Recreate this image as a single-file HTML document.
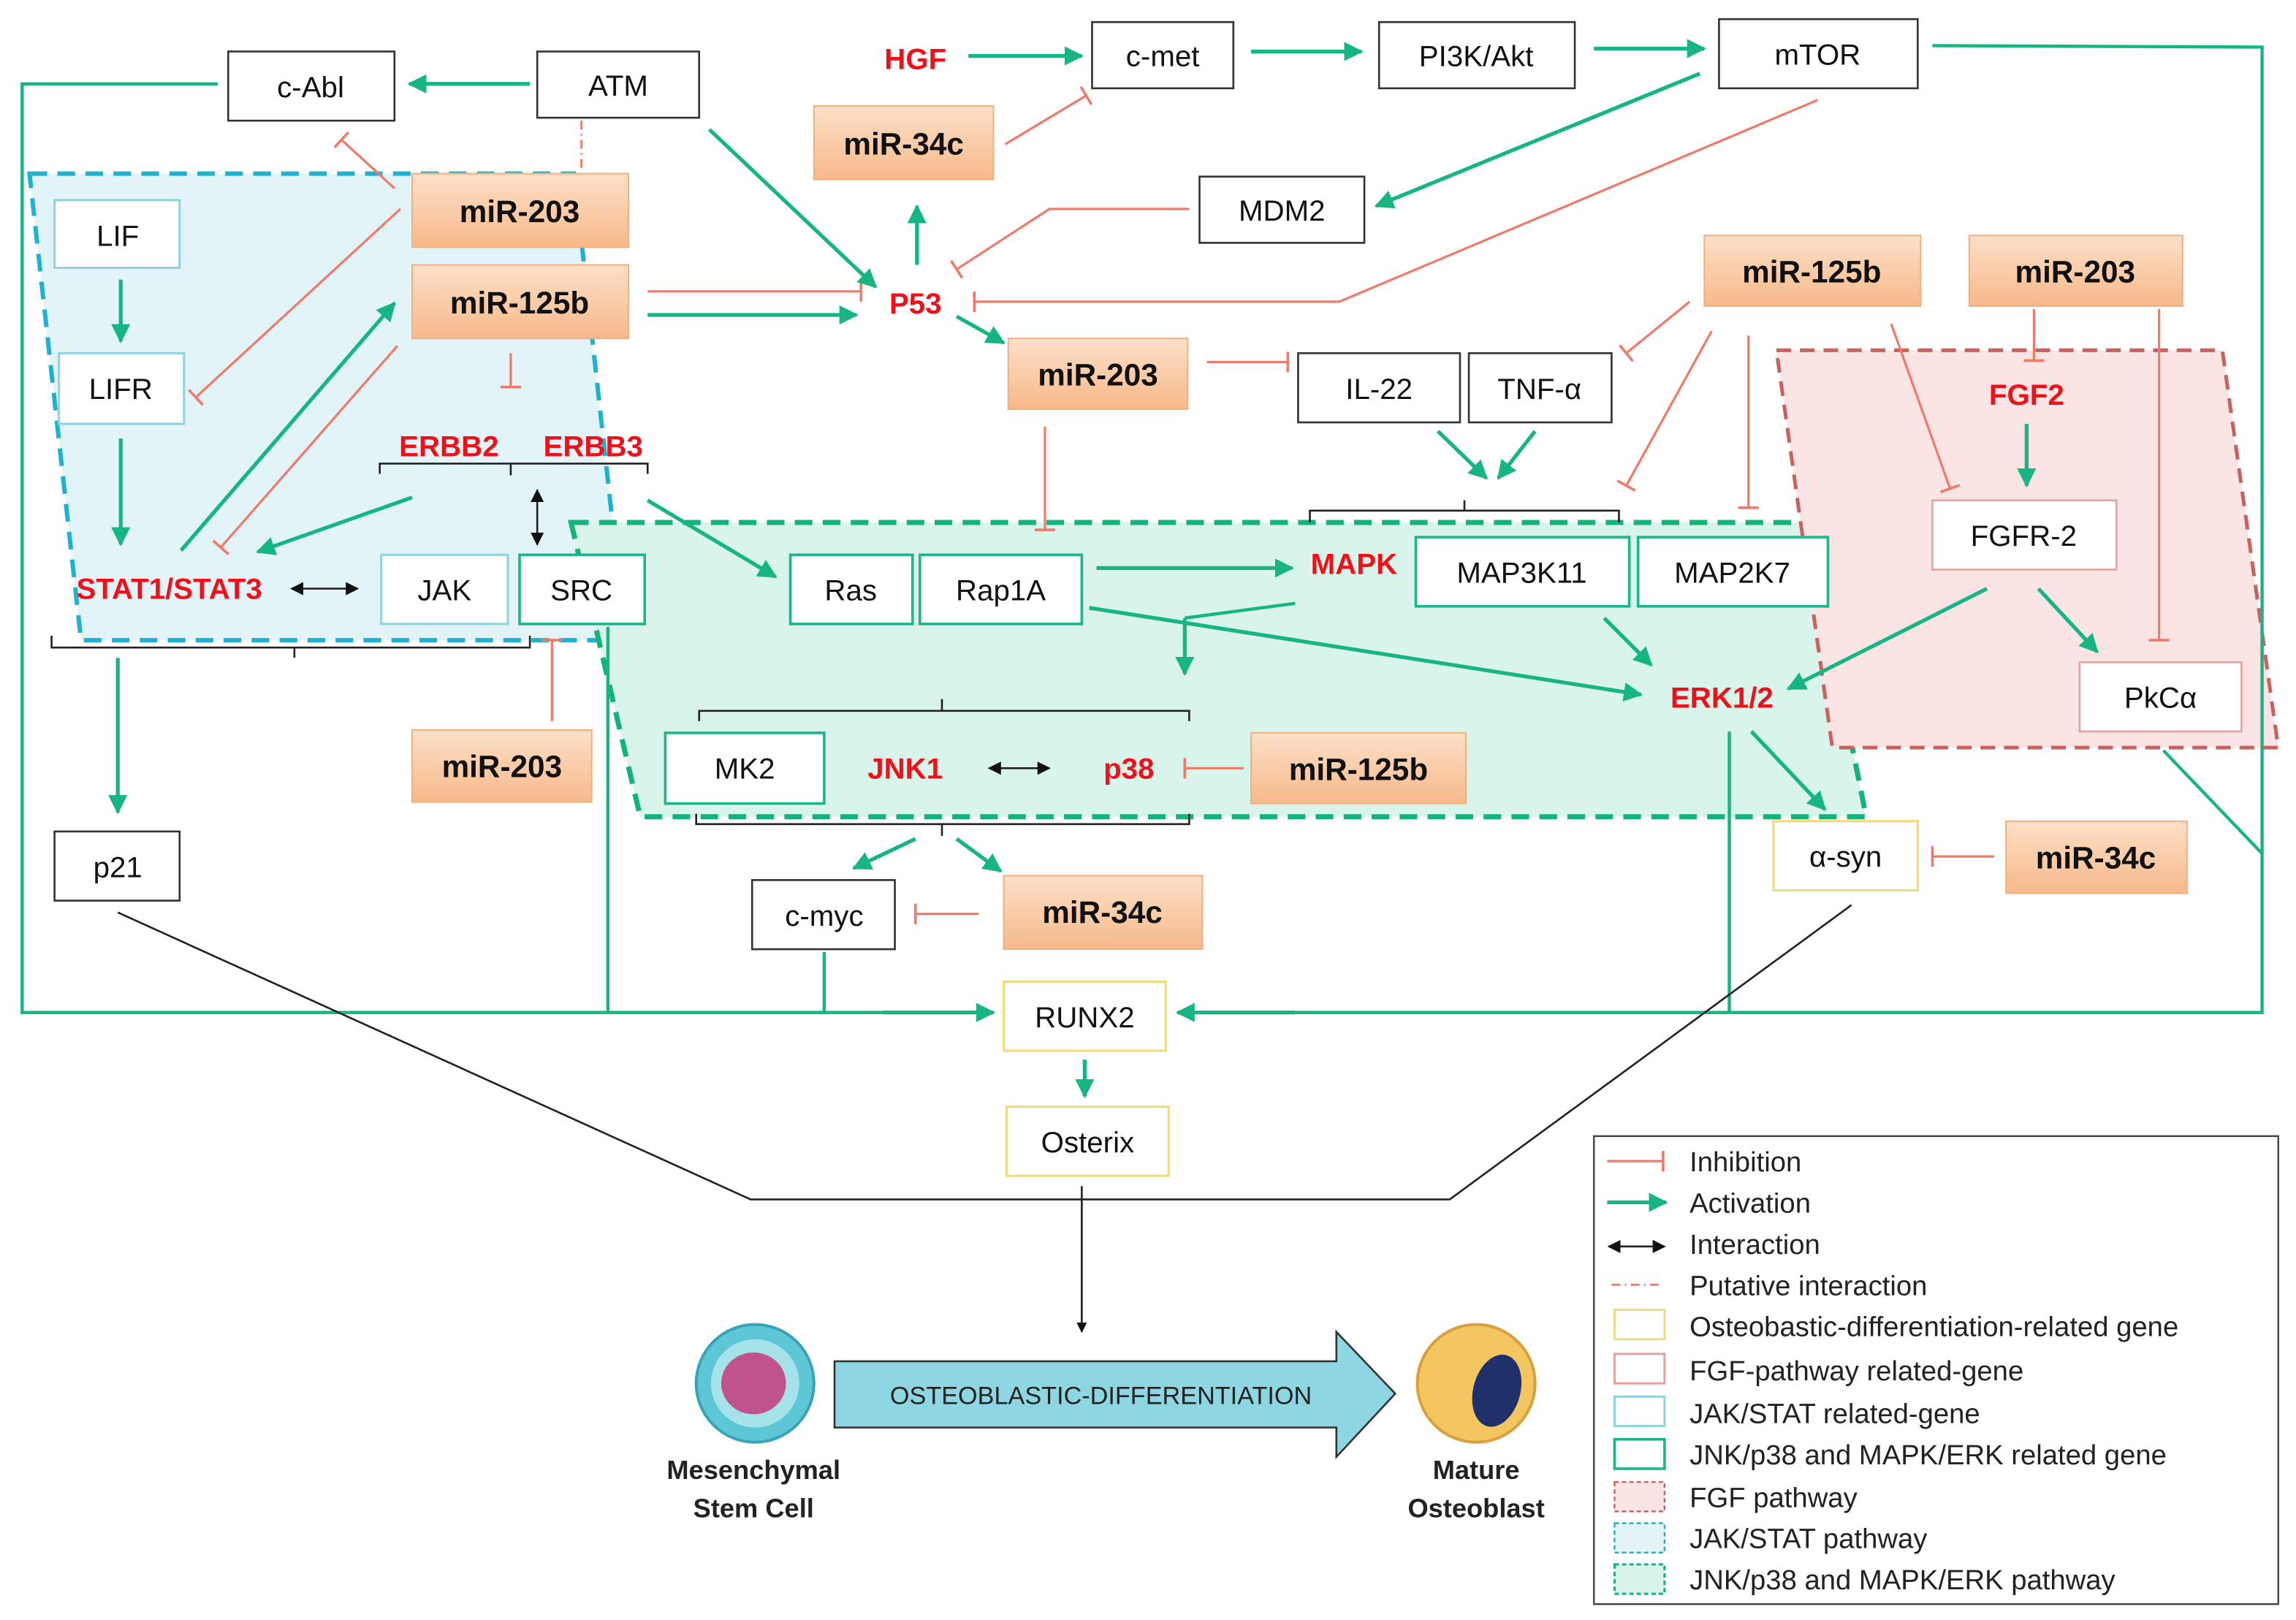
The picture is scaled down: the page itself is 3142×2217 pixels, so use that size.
<!DOCTYPE html>
<html><head><meta charset="utf-8"><style>
html,body{margin:0;padding:0;background:#fff;}
svg{display:block;}
text{font-family:"Liberation Sans",sans-serif;}
.bx{fill:#fff;stroke:#333;stroke-width:1.3;}
.bb{fill:#fff;stroke:#8fd3e0;stroke-width:1.5;}
.bt{fill:#fff;stroke:#1db58a;stroke-width:1.8;}
.bp{fill:#fff;stroke:#e3a3a0;stroke-width:1.3;}
.by{fill:#fff;stroke:#f0dc80;stroke-width:1.6;}
.mi{fill:url(#og);stroke:#f0b080;stroke-width:1;}
.t{font-size:20px;fill:#111;text-anchor:middle;}
.m{font-size:21px;font-weight:bold;fill:#111;text-anchor:middle;}
.r{font-size:20px;font-weight:bold;fill:#f0101a;text-anchor:middle;}
.g{stroke:#17b584;stroke-width:2.6;fill:none;marker-end:url(#ga);}
.gl{stroke:#17b584;stroke-width:2.2;fill:none;}
.i{stroke:#f07a6a;stroke-width:1.6;fill:none;marker-end:url(#ib);}
.k{stroke:#222;stroke-width:1.3;fill:none;}
.lg{font-size:19px;fill:#222;}
</style></head><body>
<svg width="3142" height="2217" viewBox="0 0 1560 1100.8" xmlns="http://www.w3.org/2000/svg">
<defs>
<linearGradient id="og" x1="0" y1="0" x2="0" y2="1"><stop offset="0" stop-color="#fde0c8"/><stop offset="1" stop-color="#f7b98a"/></linearGradient>
<marker id="ga" viewBox="0 0 10 10" refX="9" refY="5" markerWidth="5" markerHeight="5" orient="auto" markerUnits="strokeWidth"><path d="M0,0L10,5L0,10z" fill="#17b584"/></marker>
<marker id="ib" viewBox="0 0 4 14" refX="2" refY="7" markerWidth="4" markerHeight="14" orient="auto" markerUnits="userSpaceOnUse"><path d="M2,0V14" stroke="#f07a6a" stroke-width="1.8"/></marker>
<marker id="ka" viewBox="0 0 10 10" refX="9" refY="5" markerWidth="9" markerHeight="9" orient="auto-start-reverse" markerUnits="userSpaceOnUse"><path d="M0,0L10,5L0,10z" fill="#111"/></marker>
<marker id="ka2" viewBox="0 0 10 10" refX="9" refY="5" markerWidth="7" markerHeight="7" orient="auto" markerUnits="userSpaceOnUse"><path d="M0,0L10,5L0,10z" fill="#111"/></marker>
</defs>

<!-- regions -->
<path d="M20,118 L390,118 L425,435 L55,435 Z" fill="#e3f4f9" stroke="#1fb2d0" stroke-width="3" stroke-dasharray="12,7"/>
<path d="M388,355 L1228,355 L1268,555 L435,555 Z" fill="#d9f4ea" stroke="#14b37a" stroke-width="3.5" stroke-dasharray="12,7"/>
<path d="M1207,238 L1510,238 L1548,508 L1245,508 Z" fill="#fbe4e4" stroke="#c9625f" stroke-width="2.5" stroke-dasharray="10,6"/>

<!-- feedback lines -->
<polyline class="gl" points="148,57 15,57 15,688 675,688" />
<path class="g" d="M600,688 L675,688"/>
<polyline class="gl" points="1313,31 1537,32 1537,688 800,688"/>
<path class="g" d="M880,688 L800,688"/>
<path class="gl" d="M413,426 V688"/>
<path class="gl" d="M560,647 V688"/>
<path class="gl" d="M1175,497 V688"/>
<path class="gl" d="M1470,510 L1537,580"/>

<!-- black lines -->
<polyline class="k" points="80,620 510,815 985,815 1258,615"/>
<path class="k" d="M735,806 V905" marker-end="url(#ka2)"/>

<!-- connectors -->
<path class="g" d="M360,57 L278,57"/>
<path d="M395,82 V116" stroke="#f07a6a" stroke-width="1.4" stroke-dasharray="6,3,1,3"/>
<path class="i" d="M268,128 L232,95"/>
<path class="i" d="M272,142 L133,270"/>
<path class="g" d="M123,374 L268,206"/>
<path class="i" d="M270,235 L150,372"/>
<path class="i" d="M347,240 V263"/>
<path class="i" d="M440,198 L585,198"/>
<path class="g" d="M440,214 L582,214"/>
<path class="g" d="M482,88 L595,195"/>
<path class="g" d="M623,180 L623,140"/>
<path class="i" d="M683,98 L738,65"/>
<path class="g" d="M658,38 L735,38"/>
<path class="g" d="M850,35 L925,35"/>
<path class="g" d="M1083,33 L1158,33"/>
<path class="g" d="M1155,50 L935,140"/>
<polyline class="i" points="808,142 713,142 650,183"/>
<polyline class="i" points="1235,68 910,205 662,205"/>
<path class="g" d="M650,215 L682,233"/>
<path class="i" d="M820,246 L875,246"/>
<path class="i" d="M710,290 V360"/>
<path class="i" d="M1148,205 L1105,240"/>
<path class="i" d="M1163,225 L1105,330"/>
<path class="i" d="M1188,228 V345"/>
<path class="g" d="M977,293 L1010,325"/>
<path class="g" d="M1043,293 L1018,325"/>
<polyline class="k" points="890,355 890,347 1100,347 1100,355"/><path class="k" d="M995,347 V340"/>
<path class="g" d="M82,190 V232"/>
<path class="g" d="M82,298 V370"/>
<polyline class="k" points="258,322 258,315 440,315 440,322"/><path class="k" d="M347,315 V323"/>
<path class="g" d="M280,338 L175,375"/>
<path class="g" d="M440,340 L527,392"/>
<path class="k" d="M365,333 V370" stroke-width="2" marker-start="url(#ka)" marker-end="url(#ka)"/>
<path class="k" d="M198,400 H243" stroke-width="2" marker-start="url(#ka)" marker-end="url(#ka)"/>
<polyline class="k" points="35,432 35,440 360,440 360,432"/><path class="k" d="M200,440 V447"/>
<path class="g" d="M80,447 V552"/>
<path class="i" d="M375,490 V435"/>
<path class="g" d="M745,386 L878,386"/>
<path class="g" d="M740,413 L1115,472"/>
<path class="g" d="M1090,420 L1122,452"/>
<polyline class="gl" points="880,410 805,420"/><path class="g" d="M805,420 V458"/>
<polyline class="k" points="475,490 475,483 808,483 808,490"/><path class="k" d="M640,483 V475"/>
<polyline class="k" points="473,553 473,560 808,560 808,553"/><path class="k" d="M640,560 V568"/>
<path class="k" d="M672,522 H713" stroke-width="2" marker-start="url(#ka)" marker-end="url(#ka)"/>
<path class="i" d="M845,522 L805,522"/>
<path class="g" d="M622,570 L580,590"/>
<path class="g" d="M650,570 L680,592"/>
<path class="i" d="M665,621 L622,621"/>
<path class="g" d="M1190,497 L1240,550"/>
<path class="g" d="M1350,400 L1215,468"/>
<path class="g" d="M1385,400 L1425,443"/>
<path class="i" d="M1382,210 V245"/>
<path class="g" d="M1377,288 V330"/>
<path class="i" d="M1285,220 L1325,332"/>
<path class="i" d="M1467,210 V435"/>
<path class="i" d="M1355,582 L1313,582"/>
<path class="g" d="M737,720 V745"/>

<!-- boxes -->
<rect class="bx" x="155" y="35" width="113" height="47"/><text class="t" x="211" y="66">c-Abl</text>
<rect class="bx" x="365" y="35" width="110" height="45"/><text class="t" x="420" y="65">ATM</text>
<rect class="bx" x="742" y="15" width="96" height="45"/><text class="t" x="790" y="45">c-met</text>
<rect class="bx" x="937" y="15" width="133" height="45"/><text class="t" x="1003" y="45">PI3K/Akt</text>
<rect class="bx" x="1168" y="13" width="135" height="47"/><text class="t" x="1235" y="44">mTOR</text>
<rect class="bx" x="815" y="120" width="112" height="45"/><text class="t" x="871" y="150">MDM2</text>
<rect class="bx" x="882" y="240" width="110" height="47"/><text class="t" x="937" y="271">IL-22</text>
<rect class="bx" x="998" y="240" width="97" height="47"/><text class="t" x="1046" y="271">TNF-α</text>
<rect class="bx" x="37" y="565" width="85" height="47"/><text class="t" x="80" y="596">p21</text>
<rect class="bx" x="511" y="598" width="97" height="47"/><text class="t" x="560" y="629">c-myc</text>

<rect class="bb" x="37" y="136" width="85" height="46"/><text class="t" x="80" y="167">LIF</text>
<rect class="bb" x="40" y="240" width="85" height="48"/><text class="t" x="82" y="271">LIFR</text>
<rect class="bb" x="259" y="377" width="86" height="47"/><text class="t" x="302" y="408">JAK</text>
<rect class="bt" x="353" y="377" width="85" height="47"/><text class="t" x="395" y="408">SRC</text>
<rect class="bt" x="537" y="377" width="83" height="47"/><text class="t" x="578" y="408">Ras</text>
<rect class="bt" x="625" y="377" width="110" height="47"/><text class="t" x="680" y="408">Rap1A</text>
<rect class="bt" x="962" y="365" width="145" height="47"/><text class="t" x="1034" y="396">MAP3K11</text>
<rect class="bt" x="1113" y="365" width="129" height="47"/><text class="t" x="1177" y="396">MAP2K7</text>
<rect class="bt" x="452" y="498" width="108" height="48"/><text class="t" x="506" y="529">MK2</text>
<rect class="bp" x="1313" y="340" width="125" height="47"/><text class="t" x="1375" y="371">FGFR-2</text>
<rect class="bp" x="1413" y="450" width="110" height="47"/><text class="t" x="1468" y="481">PkCα</text>
<rect class="by" x="1205" y="558" width="98" height="47"/><text class="t" x="1254" y="589">α-syn</text>
<rect class="by" x="682" y="667" width="110" height="47"/><text class="t" x="737" y="698">RUNX2</text>
<rect class="by" x="684" y="752" width="110" height="47"/><text class="t" x="739" y="783">Osterix</text>

<!-- miRs -->
<rect class="mi" x="280" y="118" width="147" height="50"/><text class="m" x="353" y="151">miR-203</text>
<rect class="mi" x="280" y="180" width="147" height="50"/><text class="m" x="353" y="213">miR-125b</text>
<rect class="mi" x="553" y="72" width="122" height="50"/><text class="m" x="614" y="105">miR-34c</text>
<rect class="mi" x="685" y="230" width="122" height="48"/><text class="m" x="746" y="262">miR-203</text>
<rect class="mi" x="1158" y="160" width="147" height="48"/><text class="m" x="1231" y="192">miR-125b</text>
<rect class="mi" x="1338" y="160" width="145" height="48"/><text class="m" x="1410" y="192">miR-203</text>
<rect class="mi" x="280" y="496" width="122" height="49"/><text class="m" x="341" y="528">miR-203</text>
<rect class="mi" x="850" y="498" width="146" height="48"/><text class="m" x="923" y="530">miR-125b</text>
<rect class="mi" x="682" y="595" width="135" height="50"/><text class="m" x="749" y="627">miR-34c</text>
<rect class="mi" x="1363" y="558" width="123" height="49"/><text class="m" x="1424" y="590">miR-34c</text>

<!-- red labels -->
<text class="r" x="622" y="47">HGF</text>
<text class="r" x="622" y="213">P53</text>
<text class="r" x="115" y="407">STAT1/STAT3</text>
<text class="r" x="305" y="310">ERBB2</text>
<text class="r" x="403" y="310">ERBB3</text>
<text class="r" x="920" y="390">MAPK</text>
<text class="r" x="1170" y="481">ERK1/2</text>
<text class="r" x="615" y="529">JNK1</text>
<text class="r" x="767" y="529">p38</text>
<text class="r" x="1377" y="275">FGF2</text>

<!-- legend -->
<rect x="1083" y="772" width="465" height="318" fill="#fff" stroke="#444" stroke-width="1.2"/>
<path class="i" d="M1092,789 H1130"/><text class="lg" x="1148" y="796">Inhibition</text>
<path class="g" d="M1092,817 H1132"/><text class="lg" x="1148" y="824">Activation</text>
<path class="k" d="M1093,847 H1131" stroke-width="2" marker-start="url(#ka)" marker-end="url(#ka)"/><text class="lg" x="1148" y="852">Interaction</text>
<path d="M1095,873 H1130" stroke="#f07a6a" stroke-width="1.4" stroke-dasharray="6,3,1,3"/><text class="lg" x="1148" y="880">Putative interaction</text>
<rect x="1097" y="890" width="34" height="20" fill="#fff" stroke="#f0dc80" stroke-width="1.5"/><text class="lg" x="1148" y="908">Osteobastic-differentiation-related gene</text>
<rect x="1097" y="920" width="34" height="20" fill="#fff" stroke="#e3a3a0" stroke-width="1.5"/><text class="lg" x="1148" y="938">FGF-pathway related-gene</text>
<rect x="1097" y="949" width="34" height="20" fill="#fff" stroke="#8fd3e0" stroke-width="1.5"/><text class="lg" x="1148" y="967">JAK/STAT related-gene</text>
<rect x="1097" y="978" width="34" height="20" fill="#fff" stroke="#1db58a" stroke-width="1.8"/><text class="lg" x="1148" y="995">JNK/p38 and MAPK/ERK related gene</text>
<rect x="1097" y="1007" width="34" height="20" fill="#fbe4e4" stroke="#c9625f" stroke-width="1.2" stroke-dasharray="3,2"/><text class="lg" x="1148" y="1024">FGF pathway</text>
<rect x="1097" y="1035" width="34" height="20" fill="#e3f4f9" stroke="#1fb2d0" stroke-width="1.2" stroke-dasharray="3,2"/><text class="lg" x="1148" y="1052">JAK/STAT pathway</text>
<rect x="1097" y="1063" width="34" height="20" fill="#d9f4ea" stroke="#14b37a" stroke-width="1.5" stroke-dasharray="3,2"/><text class="lg" x="1148" y="1080">JNK/p38 and MAPK/ERK pathway</text>

<!-- bottom -->
<path d="M567,925 H908 V905 L948,947 L908,990 V970 H567 Z" fill="#8fd6e3" stroke="#333" stroke-width="1.3"/>
<text x="748" y="954" font-size="17" fill="#222" text-anchor="middle">OSTEOBLASTIC-DIFFERENTIATION</text>
<circle cx="513" cy="940" r="40" fill="#5ec7d6" stroke="#3aa3b8" stroke-width="2"/>
<circle cx="513" cy="940" r="30" fill="#a6e2ea"/>
<ellipse cx="512" cy="940" rx="22" ry="21" fill="#c0528e"/>
<circle cx="1003" cy="940" r="40" fill="#f4c660" stroke="#d9a040" stroke-width="2"/>
<ellipse cx="1017" cy="945" rx="16" ry="25" fill="#20306a" transform="rotate(15 1017 945)"/>
<text x="512" y="1005" font-size="18" font-weight="bold" fill="#222" text-anchor="middle">Mesenchymal</text>
<text x="512" y="1031" font-size="18" font-weight="bold" fill="#222" text-anchor="middle">Stem Cell</text>
<text x="1003" y="1005" font-size="18" font-weight="bold" fill="#222" text-anchor="middle">Mature</text>
<text x="1003" y="1031" font-size="18" font-weight="bold" fill="#222" text-anchor="middle">Osteoblast</text>
</svg>
</body></html>
